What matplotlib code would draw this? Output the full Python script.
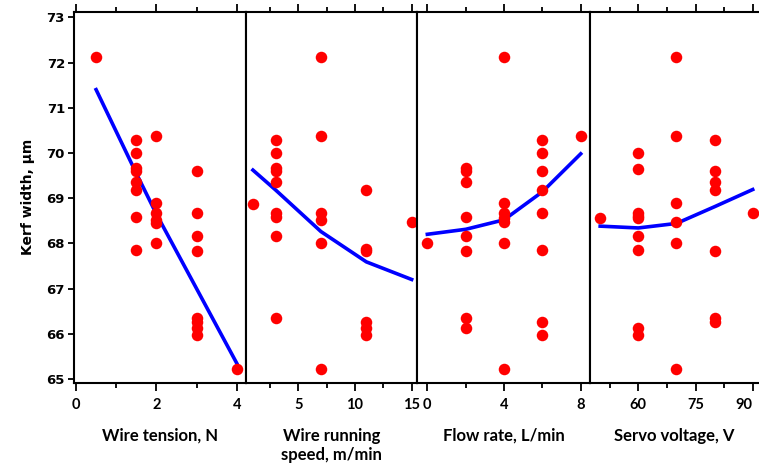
import numpy as np
import matplotlib.pyplot as plt

# kerf width (um) against each machining parameter
tension_x = [0.5] + [1.5]*8 + [2]*6 + [3]*8 + [4]
tension_y = [72.12,
             70.29, 69.99, 69.66, 69.59, 69.36, 69.17, 68.58, 67.85,
             70.37, 68.90, 68.66, 68.52, 68.45, 68.00,
             69.59, 68.66, 68.17, 67.82, 66.34, 66.27, 66.12, 65.97,
             65.23]
tension_fit_x = [0.5, 1.5, 2, 3, 4]
tension_fit_y = [71.4, 69.55, 68.65, 67.0, 65.35]

speed_x = [1] + [3]*9 + [7]*6 + [11]*6 + [15]
speed_y = [68.88,
           70.29, 69.99, 69.66, 69.59, 69.36, 68.66, 68.59, 68.16, 66.34,
           72.12, 70.37, 68.68, 68.52, 68.01, 65.23,
           69.17, 67.87, 67.82, 66.27, 66.12, 65.97,
           68.48]
speed_fit_x = [1, 3, 7, 11, 15]
speed_fit_y = [69.62, 69.18, 68.26, 67.59, 67.2]

flow_x = [0] + [2]*8 + [4]*7 + [6]*8 + [8]
flow_y = [68.00,
          69.66, 69.59, 69.36, 68.58, 68.16, 67.82, 66.34, 66.12,
          72.12, 68.90, 68.68, 68.55, 68.48, 68.00, 65.23,
          70.29, 69.99, 69.59, 69.17, 68.66, 67.85, 66.27, 65.97,
          70.37]
flow_fit_x = [0, 2, 4, 6, 8]
flow_fit_y = [68.2, 68.31, 68.52, 69.14, 69.98]

volt_x = [50] + [60]*9 + [70]*6 + [80]*7 + [90]
volt_y = [68.55,
          69.99, 69.64, 68.68, 68.60, 68.55, 68.16, 67.85, 66.12, 65.97,
          72.12, 70.37, 68.89, 68.48, 68.00, 65.23,
          70.29, 69.59, 69.36, 69.17, 67.82, 66.34, 66.27,
          68.68]
volt_fit_x = [50, 60, 70, 80, 90]
volt_fit_y = [68.38, 68.34, 68.44, 68.81, 69.19]

xlabels = ['Wire tension, N', 'Wire running\nspeed, m/min',
           'Flow rate, L/min', 'Servo voltage, V']
major_ticks = [[0, 2, 4], [5, 10, 15], [0, 4, 8], [60, 75, 90]]
minor_ticks = [[1, 3], [2.5, 7.5, 12.5], [2, 6], [52.5, 67.5, 82.5]]
xlims = [(-0.05, 4.232), (0.39, 15.47), (-0.54, 8.485), (47.33, 91.65)]

W, H = 759, 474
fig = plt.figure(figsize=(W/100, H/100), dpi=100)

# panel edges in pixels
edges = [74, 246, 417, 590, 759]
top_px, bot_px = 11.7, 383
data = [(tension_x, tension_y, tension_fit_x, tension_fit_y),
        (speed_x, speed_y, speed_fit_x, speed_fit_y),
        (flow_x, flow_y, flow_fit_x, flow_fit_y),
        (volt_x, volt_y, volt_fit_x, volt_fit_y)]

xfont = dict(family='Lato', weight='bold')
for i in range(4):
    l, r = edges[i], edges[i+1]
    ax = fig.add_axes([l/W, 1 - bot_px/H, (r - l)/W, (bot_px - top_px)/H])
    xs, ys, fx, fy = data[i]
    ax.plot(fx, fy, color='#0000ff', lw=2.6, zorder=2)
    ax.plot(xs, ys, 'o', color='#ff0000', ms=8.3, mec='none', zorder=3)
    ax.set_xlim(xlims[i])
    ax.set_ylim(64.91, 73.124)
    ax.set_xticks(major_ticks[i])
    ax.set_xticks(minor_ticks[i], minor=True)
    labels = ax.set_xticklabels([str(t) for t in major_ticks[i]],
                                fontsize=10.5, **xfont)
    if i == 3:
        # last label sits against the right edge
        labels[-1].set_horizontalalignment('right')
        labels[-1].set_x(91.5)
    ax.tick_params(axis='x', which='both', direction='out', top=True,
                   width=1.3, color='black')
    ax.tick_params(axis='x', which='major', length=6, pad=5)
    ax.tick_params(axis='x', which='minor', length=3.5)
    for sp in ax.spines.values():
        sp.set_linewidth(1.5)
    if i == 3:
        ax.spines['right'].set_visible(False)
    if i == 0:
        ax.set_yticks(np.arange(65, 74, 1))
        ax.set_yticklabels([str(v) for v in range(65, 74)], fontsize=9.5,
                           fontweight='bold', family='DejaVu Sans')
        ax.tick_params(axis='y', direction='out', length=4.5, width=1.3, pad=2)
        ax.set_ylabel('Kerf width, \u00b5m', fontsize=10, fontweight='bold',
                      labelpad=8)
    else:
        ax.set_yticks([])
    ax.set_xlabel(xlabels[i], fontsize=12, labelpad=11, linespacing=1.3, **xfont)

fig.savefig('out.png', dpi=100)
